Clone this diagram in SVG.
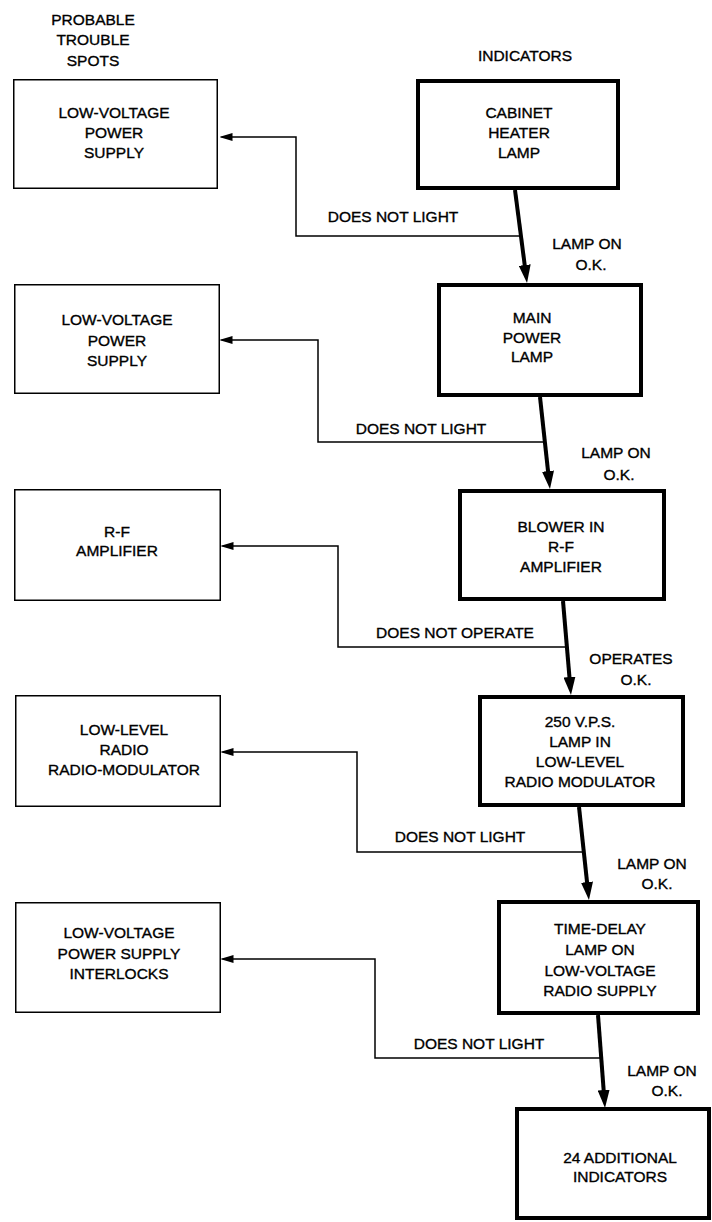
<svg xmlns="http://www.w3.org/2000/svg" width="712" height="1222" viewBox="0 0 712 1222">
<style>
text{font-family:"Liberation Sans",Arial,sans-serif;font-size:15.5px;fill:#000;stroke:#000;stroke-width:0.35;text-anchor:middle}
.thick{fill:#fff;stroke:#000;stroke-width:4}
.thin{fill:#fff;stroke:#000;stroke-width:1.5}
.flow{fill:none;stroke:#000;stroke-width:4}
.branch{fill:none;stroke:#000;stroke-width:1.5}
</style>
<defs>
<marker id="ad" markerUnits="userSpaceOnUse" markerWidth="18" markerHeight="12" viewBox="0 0 18 12" refX="10" refY="6" orient="auto"><path d="M0,0 L18,6 L0,12 z" fill="#000"/></marker>
<marker id="al" markerUnits="userSpaceOnUse" markerWidth="13" markerHeight="8" viewBox="0 0 13 8" refX="11" refY="4" orient="auto"><path d="M0,0 L13,4 L0,8 z" fill="#000"/></marker>
</defs>
<rect width="712" height="1222" fill="#fff"/>
<g id="headers">
<text x="93" y="25">PROBABLE</text>
<text x="93" y="45">TROUBLE</text>
<text x="93" y="66">SPOTS</text>
<text x="525" y="61">INDICATORS</text>
</g>
<g id="connectors">
<line class="flow" x1="515" y1="190" x2="526" y2="275" marker-end="url(#ad)"/>
<path class="branch" d="M521,236 H296 V137 H221.5" marker-end="url(#al)"/>
<line class="flow" x1="540" y1="397" x2="549.1" y2="481" marker-end="url(#ad)"/>
<path class="branch" d="M545,442 H318 V340 H221.5" marker-end="url(#al)"/>
<line class="flow" x1="563" y1="601" x2="570.3" y2="687" marker-end="url(#ad)"/>
<path class="branch" d="M567,647 H338 V546 H222.5" marker-end="url(#al)"/>
<line class="flow" x1="579" y1="807" x2="588.1" y2="892" marker-end="url(#ad)"/>
<path class="branch" d="M584,852 H357 V752 H222.5" marker-end="url(#al)"/>
<line class="flow" x1="598" y1="1015" x2="604.4" y2="1100" marker-end="url(#ad)"/>
<path class="branch" d="M601,1058 H375 V959 H222.5" marker-end="url(#al)"/>
<text x="393" y="222">DOES NOT LIGHT</text>
<text x="587" y="249">LAMP ON</text>
<text x="591" y="270">O.K.</text>
<text x="421" y="434">DOES NOT LIGHT</text>
<text x="616" y="458">LAMP ON</text>
<text x="619" y="480">O.K.</text>
<text x="455" y="638">DOES NOT OPERATE</text>
<text x="631" y="664">OPERATES</text>
<text x="636" y="685">O.K.</text>
<text x="460" y="842">DOES NOT LIGHT</text>
<text x="652" y="869">LAMP ON</text>
<text x="657" y="889">O.K.</text>
<text x="479" y="1049">DOES NOT LIGHT</text>
<text x="662" y="1076">LAMP ON</text>
<text x="667" y="1096">O.K.</text>
</g>
<g id="spot1">
<rect class="thin" x="13.75" y="79.75" width="203.5" height="108.5"/>
<text x="114" y="118">LOW-VOLTAGE</text>
<text x="114" y="138">POWER</text>
<text x="114" y="158">SUPPLY</text>
</g>
<g id="spot2">
<rect class="thin" x="14.75" y="284.75" width="204.5" height="108.5"/>
<text x="117" y="325">LOW-VOLTAGE</text>
<text x="117" y="346">POWER</text>
<text x="117" y="366">SUPPLY</text>
</g>
<g id="spot3">
<rect class="thin" x="14.75" y="489.75" width="205.5" height="110.5"/>
<text x="117" y="537">R-F</text>
<text x="117" y="556">AMPLIFIER</text>
</g>
<g id="spot4">
<rect class="thin" x="15.75" y="695.75" width="204.5" height="110.5"/>
<text x="124" y="735">LOW-LEVEL</text>
<text x="124" y="755">RADIO</text>
<text x="124" y="775">RADIO-MODULATOR</text>
</g>
<g id="spot5">
<rect class="thin" x="15.75" y="902.75" width="204.5" height="109.5"/>
<text x="119" y="938">LOW-VOLTAGE</text>
<text x="119" y="959">POWER SUPPLY</text>
<text x="119" y="979">INTERLOCKS</text>
</g>
<g id="ind1">
<rect class="thick" x="418" y="81" width="200" height="107"/>
<text x="519" y="118">CABINET</text>
<text x="519" y="138">HEATER</text>
<text x="519" y="158">LAMP</text>
</g>
<g id="ind2">
<rect class="thick" x="439" y="285" width="202" height="110"/>
<text x="532" y="323">MAIN</text>
<text x="532" y="343">POWER</text>
<text x="532" y="362">LAMP</text>
</g>
<g id="ind3">
<rect class="thick" x="460" y="491" width="204" height="108"/>
<text x="561" y="532">BLOWER IN</text>
<text x="561" y="552">R-F</text>
<text x="561" y="572">AMPLIFIER</text>
</g>
<g id="ind4">
<rect class="thick" x="480" y="697" width="203" height="108"/>
<text x="580" y="727">250 V.P.S.</text>
<text x="580" y="747">LAMP IN</text>
<text x="580" y="767">LOW-LEVEL</text>
<text x="580" y="787">RADIO MODULATOR</text>
</g>
<g id="ind5">
<rect class="thick" x="499" y="902" width="199" height="111"/>
<text x="600" y="934">TIME-DELAY</text>
<text x="600" y="955">LAMP ON</text>
<text x="600" y="976">LOW-VOLTAGE</text>
<text x="600" y="996">RADIO SUPPLY</text>
</g>
<g id="ind6">
<rect class="thick" x="517" y="1109" width="192" height="109"/>
<text x="620" y="1163">24 ADDITIONAL</text>
<text x="620" y="1182">INDICATORS</text>
</g>
</svg>
